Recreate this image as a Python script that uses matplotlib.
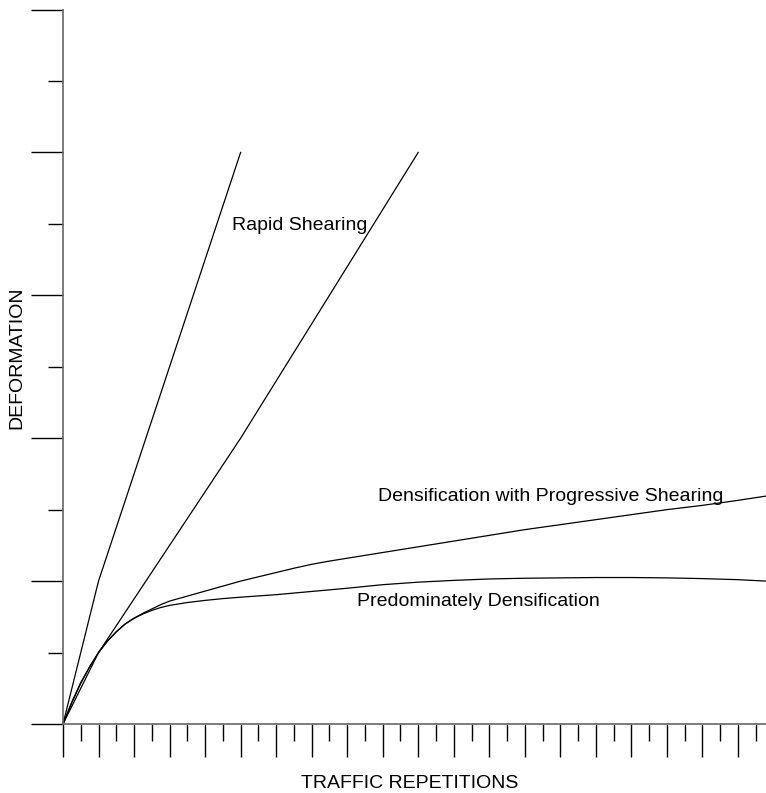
import numpy as np
import matplotlib.pyplot as plt

plt.rcParams['font.family'] = ['Liberation Sans', 'DejaVu Sans']

# deformation curves (traffic repetitions, deformation)
rapid_x = [0, 1, 5]
rapid_y = [0, 2, 8]

shear_x = [0, 1, 5, 10]
shear_y = [0, 1, 4, 8]

prog_x = [0, 0.25, 0.5, 0.75, 1, 1.25, 1.5, 1.75, 2, 2.25, 2.5, 2.75, 3, 3.5, 4, 4.5, 5,
          5.5, 6, 6.5, 7, 7.5, 8, 8.5, 9, 10, 11, 12, 13, 14, 15, 16, 17, 18, 19, 19.79]
prog_y = [0, 0.3, 0.57, 0.8, 1.0, 1.16, 1.29, 1.4, 1.48, 1.55, 1.61, 1.67, 1.72, 1.79, 1.86, 1.93, 2.0,
          2.06, 2.12, 2.18, 2.235, 2.28, 2.32, 2.36, 2.40, 2.48, 2.56, 2.64, 2.72, 2.79, 2.86, 2.93, 3.0, 3.06, 3.13, 3.19]

dens_x = [0, 0.25, 0.5, 0.75, 1, 1.25, 1.5, 1.75, 2, 2.25, 2.5, 2.75, 3, 3.5, 4, 4.5, 5,
          6, 7, 8, 9, 10, 11, 12, 13, 14, 15, 16, 17, 18, 19, 19.79]
dens_y = [0, 0.31, 0.58, 0.8, 1.0, 1.16, 1.29, 1.4, 1.48, 1.54, 1.59, 1.63, 1.66, 1.7, 1.73, 1.755, 1.775,
          1.81, 1.855, 1.9, 1.95, 1.985, 2.01, 2.03, 2.04, 2.045, 2.05, 2.05, 2.045, 2.035, 2.02, 2.0]

W, H = 766, 793
fig = plt.figure(figsize=(W / 100, H / 100), dpi=100)
ax = fig.add_axes([63 / W, (H - 724) / H, (W - 63) / W, (724 - 9.5) / H])

for xs, ys in [(rapid_x, rapid_y), (shear_x, shear_y), (prog_x, prog_y), (dens_x, dens_y)]:
    ax.plot(xs, ys, color='black', lw=0.9)

ax.set_xlim(0, 19.79)
ax.set_ylim(0, 10)

ax.set_xticks(np.arange(0, 20, 1))
ax.set_xticks(np.arange(0.5, 20, 1), minor=True)
ax.set_yticks(np.arange(0, 11, 2))
ax.set_yticks(np.arange(1, 10, 2), minor=True)
ax.set_xticklabels([])
ax.set_yticklabels([])
ax.tick_params(axis='x', which='major', direction='out', length=24, width=1, color='black')
ax.tick_params(axis='x', which='minor', direction='out', length=12, width=1, color='black')
ax.tick_params(axis='y', which='major', direction='out', length=23, width=1, color='black')
ax.tick_params(axis='y', which='minor', direction='out', length=11, width=1, color='black')

for s in ['top', 'right']:
    ax.spines[s].set_visible(False)
for s in ['left', 'bottom']:
    ax.spines[s].set_color('#666666')
    ax.spines[s].set_linewidth(1.2)

fs = 14
ax.text(4.76, 6.97, 'Rapid Shearing', fontsize=fs, va='center', ha='left')
ax.text(8.87, 3.18, 'Densification with Progressive Shearing', fontsize=fs, va='center', ha='left')
ax.text(8.27, 1.71, 'Predominately Densification', fontsize=fs, va='center', ha='left')

fig.text(410 / W, 1 - 783 / H, 'TRAFFIC REPETITIONS', fontsize=fs, ha='center', va='center')
fig.text(17 / W, 1 - 358 / H, 'DEFORMATION', fontsize=fs, ha='center', va='center', rotation=90)

fig.savefig('out.png', dpi=100)
